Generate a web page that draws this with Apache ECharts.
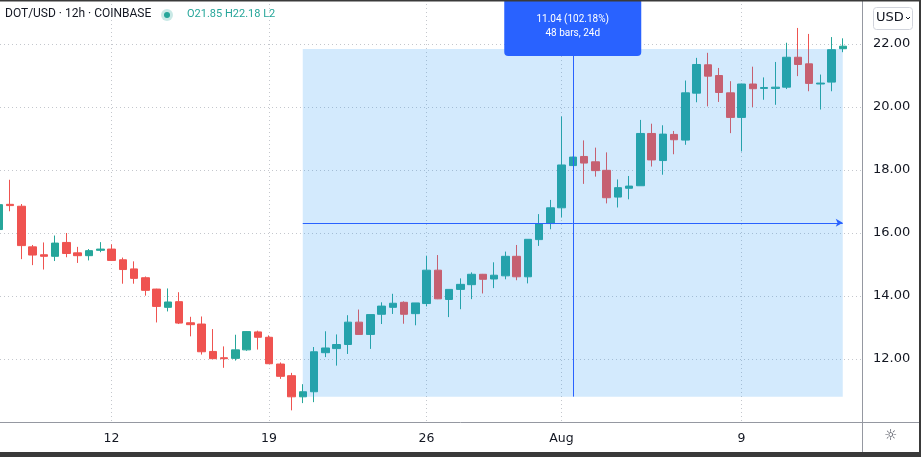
<!DOCTYPE html>
<html><head><meta charset="utf-8">
<script src="https://cdn.jsdelivr.net/npm/echarts@6/dist/echarts.min.js"></script>
<style>html,body{margin:0;padding:0;background:#fff}#c{width:921px;height:457px}</style>
</head><body><div id="c"></div>
<script>
// 12h bars, DOT/USD Coinbase, from Jul 7 00:00 (index 0) to Aug 13 12:00 (index 75)
const opens  = [16.11,16.91,16.85,15.56,15.31,15.26,15.70,15.37,15.28,15.45,
                15.49,15.15,14.86,14.58,14.22,13.64,13.82,13.15,13.11,12.24,
                12.04,12.02,12.29,12.86,12.69,11.84,11.47,10.80,10.96,12.20,
                12.33,12.46,13.17,12.78,13.42,13.64,13.80,13.44,13.76,14.82,
                13.89,14.21,14.36,14.69,14.54,14.64,15.26,14.61,15.79,16.30,
                16.80,18.14,18.43,18.26,17.99,17.14,17.42,17.50,19.16,18.30,
                19.13,18.95,20.44,21.34,21.00,20.45,19.67,20.73,20.59,20.59,
                20.63,21.58,21.37,20.73,20.79,21.85];
const closes = [16.90,16.87,15.60,15.30,15.26,15.68,15.35,15.28,15.44,15.49,
                15.13,14.84,14.56,14.18,13.67,13.81,13.14,13.09,12.23,12.01,
                12.01,12.29,12.87,12.69,11.85,11.45,10.80,10.96,12.23,12.35,
                12.46,13.17,12.78,13.41,13.68,13.77,13.42,13.78,14.82,13.91,
                14.21,14.37,14.69,14.53,14.66,15.26,14.61,15.80,16.30,16.80,
                18.16,18.41,18.22,17.98,17.12,17.44,17.49,19.16,18.32,19.14,
                18.96,20.45,21.35,20.98,20.46,19.67,20.73,20.58,20.62,20.63,
                21.58,21.35,20.75,20.76,21.82,21.93];
const lows   = [16.05,16.69,15.17,14.98,14.84,15.11,15.23,15.05,15.13,15.39,
                15.11,14.39,14.39,14.01,13.16,13.51,13.11,12.72,12.14,12.00,
                11.72,11.95,12.26,12.30,11.85,11.37,10.37,10.60,10.63,12.06,
                11.79,12.16,12.78,12.32,13.11,13.43,13.12,13.07,13.67,13.90,
                13.33,13.58,13.90,14.08,14.25,14.53,14.50,14.40,15.59,16.12,
                16.49,18.13,17.56,17.79,16.94,16.81,17.07,17.50,18.11,17.85,
                18.50,18.80,20.15,20.02,20.16,19.17,18.59,20.00,20.23,20.07,
                20.57,20.98,20.50,19.92,20.50,21.74];
const highs  = [16.95,17.69,16.92,15.62,15.70,15.92,16.00,15.56,15.49,15.71,
                15.64,15.22,15.10,14.62,14.23,14.24,14.12,13.34,13.35,12.95,
                12.40,12.77,12.88,12.90,12.75,11.89,11.56,11.20,12.38,12.88,
                12.78,13.39,13.57,13.41,13.80,14.07,13.83,13.78,15.28,15.30,
                14.21,14.56,14.75,14.70,15.07,15.41,15.62,15.80,16.60,17.05,
                19.70,18.42,18.94,18.71,18.56,17.70,17.81,19.59,19.47,19.42,
                19.24,20.84,21.56,21.72,21.24,20.82,20.74,21.28,20.94,21.43,
                22.04,22.51,22.32,21.03,22.22,22.18];
const xTickIdx    = [10, 24, 38, 50, 66];
const xTickLabels = ['12', '19', '26', 'Aug', '9'];
const yTicks      = [12, 14, 16, 18, 20, 22];
const measureIdx  = [27, 75];
const measurePx   = [10.805, 21.845];
const measureText = ['11.04 (102.18%)', '48 bars, 24d'];
const symbolTitle = 'DOT/USD \u00b7 12h \u00b7 COINBASE';

const last = opens.length - 1;
const candleData = opens.map((o, i) => [i, o, closes[i], lows[i], highs[i]]);
const midIdx = (measureIdx[0] + measureIdx[1]) / 2;
const midPx = (measurePx[0] + measurePx[1]) / 2;
const ohlcText = ('O' + opens[last].toFixed(2) + ' H' + highs[last].toFixed(2) + ' L' + lows[last].toFixed(2)).slice(0, 16);

const gridLine = {show: true, lineStyle: {color: '#c4c7cd', type: [1, 3], width: 1}};
const boxPath = 'path://M4,0H133Q137,0 137,4V54Q137,58 133,58H4Q0,58 0,54V4Q0,0 4,0Z';
const chart = echarts.init(document.getElementById('c'));
chart.setOption({
  animation: false,
  grid: {left: 0, right: 59, top: 0, bottom: 35},
  xAxis: {
    type: 'value', min: 0.0889, max: 76.711,
    axisLine: {show: false},
    axisTick: {show: false, customValues: xTickIdx},
    axisLabel: {customValues: xTickIdx, formatter: v => xTickLabels[xTickIdx.indexOf(v)],
      color: '#131722', fontFamily: 'DejaVu Sans', fontSize: 12.5, margin: 10},
    splitLine: gridLine
  },
  yAxis: {
    type: 'value', position: 'right', min: 10, max: 23.397,
    axisLine: {show: false},
    axisTick: {show: false, customValues: yTicks},
    axisLabel: {customValues: yTicks, formatter: v => v.toFixed(2),
      color: '#131722', fontFamily: 'DejaVu Sans', fontSize: 13, margin: 11},
    splitLine: gridLine
  },
  series: [
    {
      type: 'candlestick', data: candleData, encode: {x: 0, y: [1, 2, 3, 4]},
      barWidth: 8, z: 2,
      itemStyle: {color: '#26a69a', color0: '#ef5350', borderColor: '#26a69a', borderColor0: '#ef5350', borderWidth: 1}
    },
    {
      type: 'line', data: [[measureIdx[0], measurePx[0]]], showSymbol: false, symbol: 'none',
      lineStyle: {opacity: 0}, z: 5, silent: true,
      markArea: {silent: true, z: 5, itemStyle: {color: 'rgba(33,150,243,0.2)'},
        data: [[{coord: [measureIdx[0], measurePx[0]]}, {coord: [measureIdx[1], measurePx[1]]}]]},
      markLine: {silent: true, z: 6, symbol: ['none', 'none'], animation: false,
        lineStyle: {color: '#2962ff', width: 1, type: 'solid'}, label: {show: false},
        data: [
          [{coord: [midIdx, measurePx[1]]}, {coord: [midIdx, measurePx[0]]}],
          [{coord: [measureIdx[0], midPx], symbol: 'none'}, {coord: [measureIdx[1], midPx], symbol: 'arrow', symbolSize: [6, 7]}]
        ]},
      markPoint: {silent: true, z: 10, animation: false,
        data: [{coord: [midIdx, measurePx[1]], symbol: boxPath, symbolSize: [137, 58], symbolOffset: [0, -22],
          symbolKeepAspect: false,
          itemStyle: {color: '#2962ff'},
          label: {show: true, position: 'inside', formatter: measureText.join('\n'), color: '#ffffff',
            fontFamily: 'Roboto', fontSize: 10, lineHeight: 14}}]}
    }
  ],
  graphic: [
    {type: 'line', z: 50, shape: {x1: 0, y1: 422.5, x2: 921, y2: 422.5}, style: {stroke: '#9598a1', lineWidth: 1}},
    {type: 'line', z: 50, shape: {x1: 862.5, y1: 0, x2: 862.5, y2: 457}, style: {stroke: '#9598a1', lineWidth: 1}},
    {type: 'text', z: 50, left: 5, top: 8, style: {text: symbolTitle, fill: '#131722', font: '12px Roboto'}},
    {type: 'circle', z: 50, shape: {cx: 167, cy: 15, r: 6}, style: {fill: 'rgba(38,166,154,0.25)'}},
    {type: 'circle', z: 51, shape: {cx: 167, cy: 15, r: 3}, style: {fill: '#26a69a'}},
    {type: 'text', z: 50, left: 187, top: 9, style: {text: ohlcText, fill: '#26a69a', font: '11px Roboto'}},
    {type: 'rect', z: 50, shape: {x: 873.5, y: 7.5, width: 39, height: 22, r: 3}, style: {fill: '#fff', stroke: '#d1d4dc', lineWidth: 1}},
    {type: 'text', z: 51, left: 876, top: 11, style: {text: 'USD', fill: '#131722', font: '13px DejaVu Sans'}},
    {type: 'polyline', z: 51, shape: {points: [[906, 17], [908, 19], [910, 17]]}, style: {stroke: '#131722', lineWidth: 1, fill: null}},
    {type: 'text', z: 50, left: 884, top: 429, style: {text: '\u263C', fill: '#50535e', font: '15px DejaVu Sans'}},
    {type: 'rect', z: 60, shape: {x: 0, y: 0, width: 921, height: 1.5}, style: {fill: '#3a3a3a'}},
    {type: 'rect', z: 60, shape: {x: 919, y: 0, width: 2, height: 457}, style: {fill: '#3a3a3a'}},
    {type: 'rect', z: 60, shape: {x: 0, y: 452, width: 921, height: 5}, style: {fill: '#3a3a3a'}}
  ]
});
</script></body></html>
